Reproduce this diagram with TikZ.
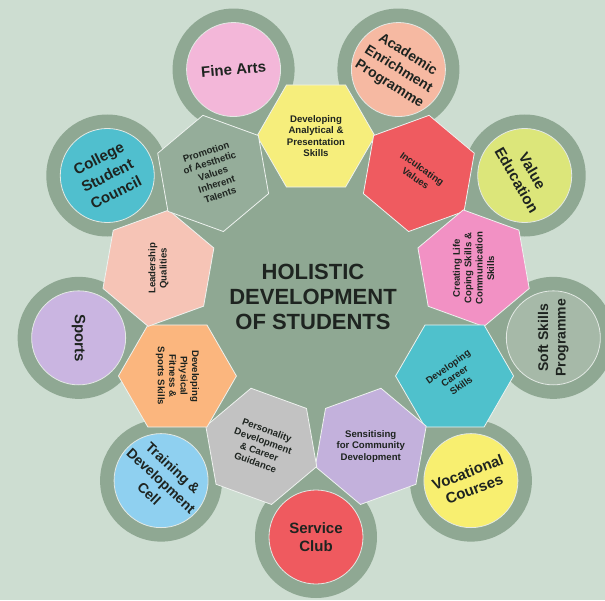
\documentclass[tikz,border=0pt]{standalone}
\usepackage{fontspec}
\setmainfont{Liberation Sans}
\usetikzlibrary{shapes.geometric}
\definecolor{bgcol}{HTML}{CDDDD1}
\definecolor{ringcol}{HTML}{8FA893}
\definecolor{txtcol}{HTML}{1E2420}
\definecolor{hyellow}{HTML}{F6EE7C}
\definecolor{hred}{HTML}{EF5B60}
\definecolor{hpink}{HTML}{F291C4}
\definecolor{hteal}{HTML}{4FC1CC}
\definecolor{hlav}{HTML}{C3B1DC}
\definecolor{hgray}{HTML}{C2C2C2}
\definecolor{horange}{HTML}{FBB67E}
\definecolor{hpeach}{HTML}{F6C4B6}
\definecolor{hsage}{HTML}{95AD9A}
\definecolor{cpink}{HTML}{F3B7D9}
\definecolor{csalmon}{HTML}{F6B9A2}
\definecolor{clime}{HTML}{DCE67A}
\definecolor{csage}{HTML}{A6B9A8}
\definecolor{cyellow}{HTML}{F8EF70}
\definecolor{cred}{HTML}{EF5A5F}
\definecolor{cblue}{HTML}{8FD0F0}
\definecolor{clav}{HTML}{CAB5E1}
\definecolor{cteal}{HTML}{50BFCE}
\begin{document}
\begin{tikzpicture}[x=1pt,y=1pt,
    hexa/.style={regular polygon, regular polygon sides=6, minimum size=118pt, inner sep=0pt,
        draw=white!85!ringcol, line width=0.8pt, align=center, text=txtcol,
        font=\fontsize{9.6}{11.4}\selectfont\bfseries},
    ring/.style={circle, fill=ringcol, minimum size=122pt, inner sep=0pt},
    club/.style={circle, draw=white!75!ringcol, line width=0.8pt, minimum size=94pt, inner sep=0pt},
    clubtext/.style={align=center, text=txtcol, inner sep=0pt, font=\fontsize{15}{18}\selectfont\bfseries},
    smalltext/.style={clubtext, font=\fontsize{14}{17.5}\selectfont\bfseries}]
    \useasboundingbox (-316,-304) rectangle (289,296);
    \fill[bgcol] (-316,-304) rectangle (289,296);
    \fill[ringcol] (0,0) circle (185);

    \node[ring] (rfa) at (110:241) {};
    \node[ring] (rae) at (70:241) {};
    \node[ring] (rve) at (30:241) {};
    \node[ring] (rss) at (-10:241) {};
    \node[ring] (rvc) at (-50:241) {};
    \node[ring] (rsc) at (-90:241) {};
    \node[ring] (rtd) at (-130:241) {};
    \node[ring] (rsp) at (-170:241) {};
    \node[ring] (rcs) at (150:241) {};

    \node[hexa, fill=hyellow] (analytical) at (90:160) {Developing\\Analytical \&\\Presentation\\Skills};
    \node[hexa, fill=hred, rotate=-35, shape border rotate=-5] (values) at (50:160) {Inculcating\\Values};
    \node[hexa, fill=hpink, rotate=90, shape border rotate=-170] (coping) at (10:160) {Creating Life\\Coping Skills \&\\Communication\\Skills};
    \node[hexa, fill=hteal, rotate=35, shape border rotate=-155] (career) at (-30:160) {Developing\\Career\\Skills};
    \node[hexa, fill=hlav, shape border rotate=-160] (community) at (-70:160) {Sensitising\\for Community\\Development};
    \node[hexa, fill=hgray, rotate=-20, shape border rotate=-180] (personality) at (-110:160) {Personality\\Development\\\& Career\\Guidance};
    \node[hexa, fill=horange, rotate=-90, shape border rotate=-150] (fitness) at (-150:160) {Developing\\Physical\\Fitness \&\\Sports Skills};
    \node[hexa, fill=hpeach, rotate=90, shape border rotate=-10] (leadership) at (170:160) {Leadership\\Qualities};
    \node[hexa, fill=hsage, rotate=18, shape border rotate=22] (aesthetic) at (130:160) {Promotion\\of Aesthetic\\Values\\Inherent\\Talents};

    \node[club, fill=cpink] (fa) at (rfa) {};
    \node[club, fill=csalmon] (ae) at (rae) {};
    \node[club, fill=clime] (ve) at (rve) {};
    \node[club, fill=csage] (ss) at (rss) {};
    \node[club, fill=cyellow] (vc) at (rvc) {};
    \node[club, fill=cred] (sc) at (rsc) {};
    \node[club, fill=cblue] (td) at (rtd) {};
    \node[club, fill=clav] (sp) at (rsp) {};
    \node[club, fill=cteal] (cs) at (rcs) {};

    \node[clubtext, rotate=5] (fat) at (fa) {Fine Arts};
    \node[smalltext, rotate=-32] (aet) at (ae) {Academic\\Enrichment\\Programme};
    \node[clubtext, rotate=-60] (vet) at (ve) {Value\\Education};
    \node[smalltext, rotate=90] (sst) at (ss) {Soft Skills\\Programme};
    \node[clubtext, rotate=21] (vct) at (vc) {Vocational\\Courses};
    \node[clubtext] (sct) at (sc) {Service\\Club};
    \node[smalltext, rotate=-43] (tdt) at (td) {Training \&\\Development\\Cell};
    \node[clubtext, rotate=-90] (spt) at (sp) {Sports};
    \node[clubtext, rotate=27, font=\fontsize{15}{19}\selectfont\bfseries] (cst) at (cs) {College\\Student\\Council};

    \node[align=center, text=txtcol, font=\fontsize{22}{25}\selectfont\bfseries] (hds) at (-3,-1) {HOLISTIC\\DEVELOPMENT\\OF STUDENTS};
\end{tikzpicture}
\end{document}
